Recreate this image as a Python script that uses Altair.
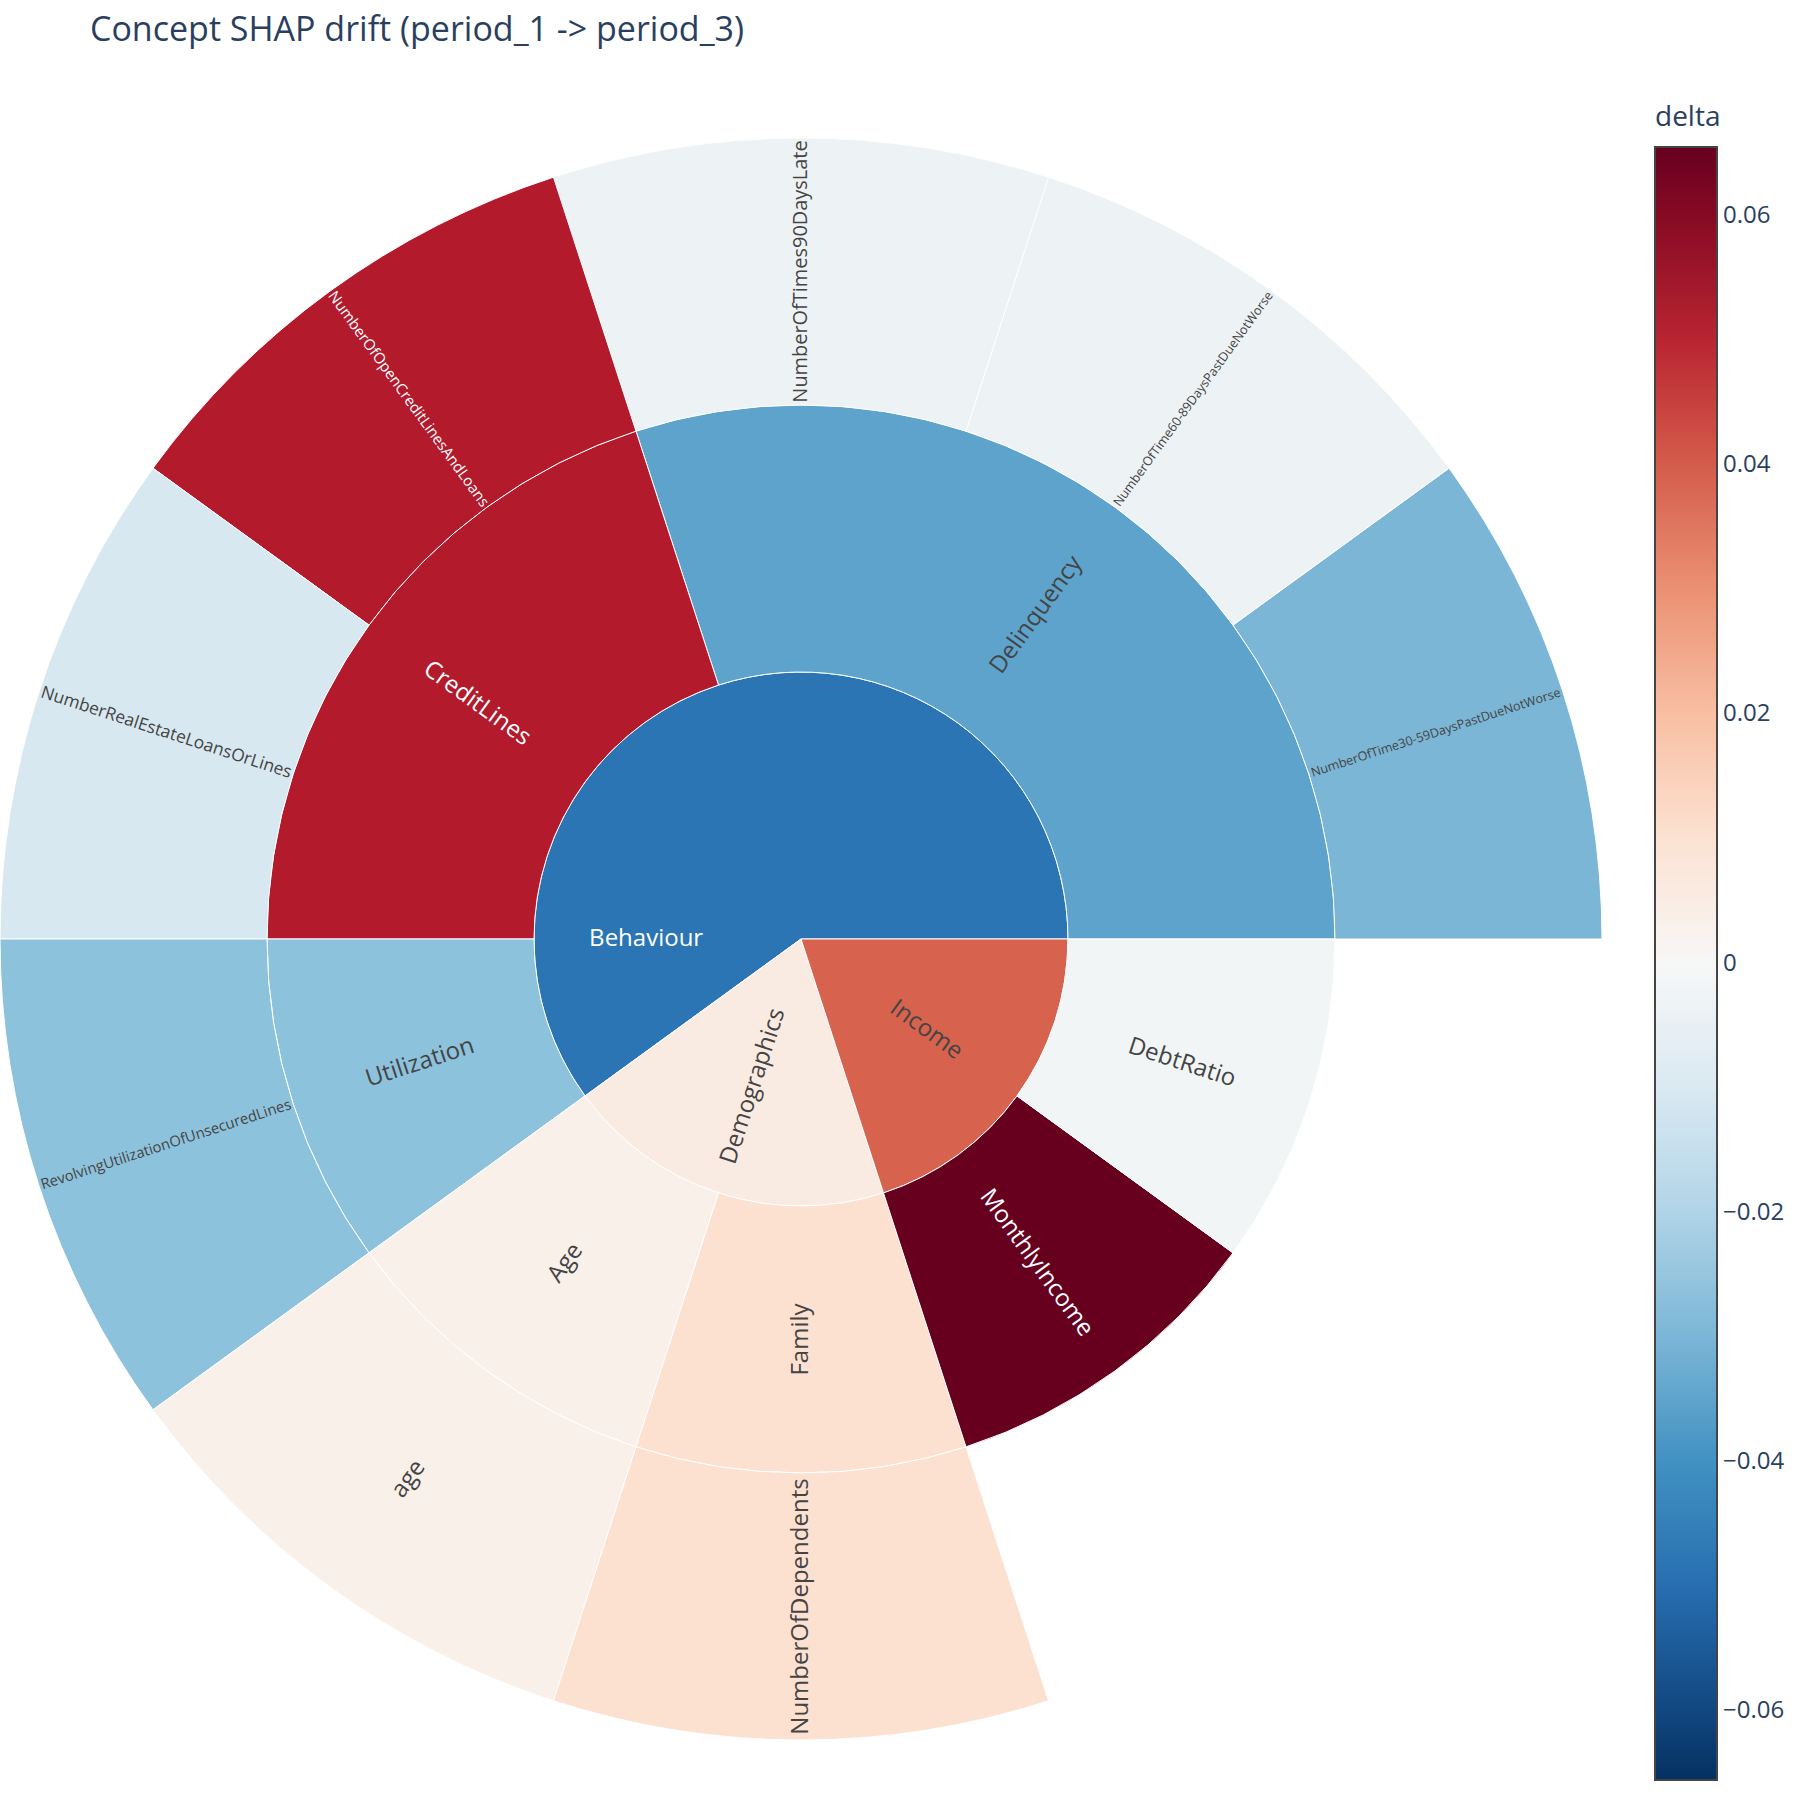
import math

import altair as alt
import pandas as pd

# Concept hierarchy: each node, its parent ("" for a top-level concept) and the SHAP delta
labels = [
    "Behaviour", "Demographics", "Income",
    "Delinquency", "CreditLines", "Utilization", "Age", "Family",
    "MonthlyIncome", "DebtRatio",
    "NumberOfTime30-59DaysPastDueNotWorse", "NumberOfTime60-89DaysPastDueNotWorse",
    "NumberOfTimes90DaysLate", "NumberOfOpenCreditLinesAndLoans",
    "NumberRealEstateLoansOrLines", "RevolvingUtilizationOfUnsecuredLines",
    "age", "NumberOfDependents",
]
parents = [
    "", "", "",
    "Behaviour", "Behaviour", "Behaviour", "Demographics", "Demographics",
    "Income", "Income",
    "Delinquency", "Delinquency",
    "Delinquency", "CreditLines",
    "CreditLines", "Utilization",
    "Age", "Family",
]
delta = [
    -0.048, 0.0056, 0.039,
    -0.035, 0.052, -0.027, 0.0035, 0.0105,
    0.0655, -0.0017,
    -0.030, -0.0036,
    -0.0034, 0.052,
    -0.0107, -0.027,
    0.0035, 0.0105,
]

colorbar_ticks = [-0.06, -0.04, -0.02, 0, 0.02, 0.04, 0.06]
rdbu = ["#053061", "#2166ac", "#4393c3", "#92c5de", "#d1e5f0", "#f7f7f7",
        "#fddbc7", "#f4a582", "#d6604d", "#b2182b", "#67001f"]

TITLE = "Concept SHAP drift (period_1 -> period_3)"
FONT = "Open Sans"
INK = "#2a3f5f"

# ---- layout of the sunburst ---------------------------------------------
OUTER_R = 801
MAX_FONT = 24

children = {n: [] for n in labels}
roots = []
for n, p in zip(labels, parents):
    (children[p] if p else roots).append(n)
value_of = dict(zip(labels, delta))


def leaf_count(n):
    return 1 if not children[n] else sum(leaf_count(c) for c in children[n])


total = sum(leaf_count(r) for r in roots)
deg_per_unit = 360.0 / total
depth_count = 3

# rough Open Sans advance widths (em/1000) used to shrink long labels to the ring
ADV = {
    "a": 556, "b": 613, "c": 476, "d": 613, "e": 561, "f": 339, "g": 548, "h": 614,
    "i": 253, "j": 253, "k": 525, "l": 253, "m": 930, "n": 614, "o": 604, "p": 613,
    "q": 613, "r": 408, "s": 477, "t": 353, "u": 614, "v": 501, "w": 778, "x": 523,
    "y": 501, "z": 463, "A": 633, "B": 648, "C": 631, "D": 729, "E": 556, "F": 519,
    "G": 728, "H": 738, "I": 279, "L": 526, "M": 903, "N": 760, "O": 781, "P": 602,
    "R": 613, "S": 551, "T": 549, "U": 738, "W": 975, "-": 322,
}


def text_em(s):
    return sum(ADV.get(ch, 572) for ch in s) / 1000.0


ring_px = OUTER_R / depth_count
rows = []


def place(n, start, depth):
    size = leaf_count(n)
    span = size * deg_per_unit
    mid_deg = (start + size / 2) * deg_per_unit
    if span > 180:
        # wide sector: horizontal label facing its open side
        lab_unit = 180 / deg_per_unit
        rot = 0
    else:
        lab_unit = start + size / 2
        rot = (-mid_deg) % 360
        if 90 <= rot < 270:
            rot = (rot + 180) % 360
    lab_r = depth + (0.58 if depth == 0 else 0.5)
    fs = min(MAX_FONT, (ring_px - 4) / text_em(n))
    d = value_of[n]
    rows.append(dict(
        name=n, delta=d, t0=start, t1=start + size, r0=depth, r1=depth + 1,
        tm=lab_unit, rm=lab_r, rot=rot, fs=round(fs, 2),
        tc="white" if abs(d) > 0.045 else "#444444",
    ))
    s = start
    for c in children[n]:
        place(c, s, depth + 1)
        s += leaf_count(c)


pos = 0
for r in roots:
    place(r, pos, 0)
    pos += leaf_count(r)

df = pd.DataFrame(rows)

cmax = max(abs(v) for v in delta)
stops = [-cmax + i * (2 * cmax) / (len(rdbu) - 1) for i in range(len(rdbu))]

theta_scale = alt.Scale(domain=[0, total], range=[math.pi / 2, math.pi / 2 - 2 * math.pi])
radius_scale = alt.Scale(type="linear", domain=[0, depth_count], range=[0, OUTER_R], zero=True)

base = alt.Chart(df)

arcs = base.mark_arc(stroke="white", strokeWidth=1).encode(
    theta=alt.Theta("t0:Q", scale=theta_scale, stack=None),
    theta2="t1:Q",
    radius=alt.Radius("r0:Q", scale=radius_scale),
    radius2="r1:Q",
    color=alt.Color(
        "delta:Q",
        scale=alt.Scale(domain=stops, range=rdbu, interpolate="rgb"),
        legend=alt.Legend(
            title="delta", orient="none", legendX=1655, legendY=-34.5,
            direction="vertical", gradientLength=1633, gradientThickness=62,
            gradientStrokeColor="#444444", gradientStrokeWidth=2,
            values=colorbar_ticks, format=".2~f",
            labelFont=FONT, labelFontSize=24, labelColor=INK, labelOffset=6,
            titleFont=FONT, titleFontSize=28, titleColor=INK, titleFontWeight="normal",
            titlePadding=15.5, padding=0, labelOverlap=False,
        ),
    ),
)

texts = base.mark_text(font=FONT, align="center", baseline="middle").encode(
    theta=alt.Theta("tm:Q", scale=theta_scale, stack=None),
    radius=alt.Radius("rm:Q", scale=radius_scale),
    text="name:N",
    angle=alt.Angle("rot:Q", scale=None),
    size=alt.Size("fs:Q", scale=None),
    fill=alt.Fill("tc:N", scale=None),
)

chart = alt.layer(arcs, texts).properties(
    width=2 * OUTER_R,
    height=2 * OUTER_R,
    title=alt.TitleParams(
        text=TITLE, anchor="start", font=FONT, fontSize=34, fontWeight="normal",
        color=INK, dx=92, offset=56,
    ),
    autosize=alt.AutoSizeParams(type="none"),
    padding={"left": 0, "top": 138, "right": 1800 - 2 * OUTER_R, "bottom": 1800 - 138 - 2 * OUTER_R},
).configure_view(stroke=None)

chart.save("out.html", embed_options={"renderer": "svg", "actions": False})
